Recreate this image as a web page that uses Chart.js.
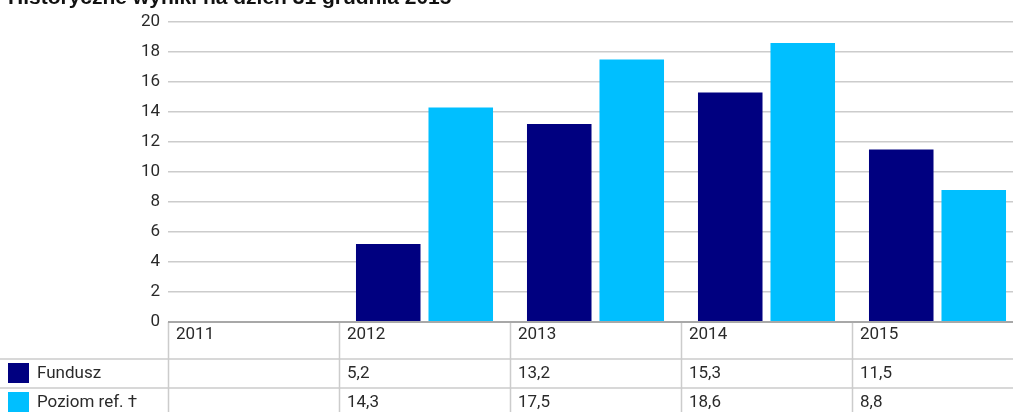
<!DOCTYPE html>
<html>
<head>
<meta charset="utf-8">
<script src="https://cdn.jsdelivr.net/npm/chart.js@4/dist/chart.umd.min.js"></script>
<style>
  html, body { margin: 0; padding: 0; background: #fff; }
  #wrap { width: 1013px; height: 412px; overflow: hidden; position: relative; }
  canvas { display: block; }
</style>
</head>
<body>
<div id="wrap"><canvas id="c" width="1023" height="412"></canvas></div>
<script>
const title = 'Historyczne wyniki na dzień 31 grudnia 2015';
const categories = ['2011', '2012', '2013', '2014', '2015'];
const seriesNames = ['Fundusz', 'Poziom ref. †'];
const fundusz = [null, 5.2, 13.2, 15.3, 11.5];
const poziomRef = [null, 14.3, 17.5, 18.6, 8.8];
const yTicks = [0, 2, 4, 6, 8, 10, 12, 14, 16, 18, 20];
const colors = ['#000080', '#00BFFF'];

const FONT = 'Roboto, "Liberation Sans", sans-serif';
const TEXT = '#2a2a2a';
const LINE = '#cccccc';

function fmt(v) { return v == null ? '' : v.toFixed(1).replace('.', ','); }

const tablePlugin = {
  id: 'tablePlugin',
  afterDraw(chart) {
    const ctx = chart.ctx;
    const xs = chart.scales.x;
    const area = chart.chartArea;
    const W = chart.width;
    const n = categories.length;
    const catW = (area.right - area.left) / n;
    const top = area.bottom;
    const row1 = top + 37;
    const row2 = row1 + 29;
    const rowH = 29;
    ctx.save();
    // title
    ctx.fillStyle = '#111';
    ctx.font = 'bold 21px "Liberation Sans", Arial, sans-serif';
    ctx.textAlign = 'left';
    ctx.textBaseline = 'alphabetic';
    ctx.fillText(title, 8, 4);

    // horizontal lines
    ctx.strokeStyle = LINE;
    ctx.lineWidth = 1.5;
    ctx.beginPath();
    ctx.moveTo(0, row1); ctx.lineTo(W, row1);
    ctx.moveTo(0, row2); ctx.lineTo(W, row2);
    ctx.stroke();
    // vertical lines
    ctx.beginPath();
    for (let i = 0; i < n; i++) {
      const left = xs.getPixelForValue(i) - catW / 2;
      ctx.moveTo(Math.round(left) + 0.5, top);
      ctx.lineTo(Math.round(left) + 0.5, chart.height);
    }
    ctx.stroke();
    // axis line
    ctx.strokeStyle = '#a8a8a8';
    ctx.lineWidth = 2;
    ctx.beginPath();
    ctx.moveTo(area.left, top); ctx.lineTo(W, top);
    ctx.stroke();

    ctx.font = '17px ' + FONT;
    ctx.fillStyle = TEXT;
    ctx.textBaseline = 'middle';
    ctx.textAlign = 'left';
    const rowsData = [fundusz, poziomRef];
    for (let i = 0; i < n; i++) {
      const left = xs.getPixelForValue(i) - catW / 2;
      ctx.fillText(categories[i], left + 8, top + 13);
      for (let r = 0; r < rowsData.length; r++) {
        const yc = row1 + rowH * r + rowH / 2;
        ctx.fillText(fmt(rowsData[r][i]), left + 8, yc);
      }
    }
    // legend
    for (let r = 0; r < seriesNames.length; r++) {
      const y0 = row1 + rowH * r;
      ctx.fillStyle = colors[r];
      ctx.fillRect(8, y0 + 4, 21, 20);
      ctx.fillStyle = TEXT;
      ctx.fillText(seriesNames[r], 37, y0 + rowH / 2);
    }
    ctx.restore();
  }
};

new Chart(document.getElementById('c'), {
  type: 'bar',
  data: {
    labels: categories,
    datasets: [
      { label: seriesNames[0], data: fundusz, backgroundColor: colors[0] },
      { label: seriesNames[1], data: poziomRef, backgroundColor: colors[1] }
    ]
  },
  options: {
    responsive: false,
    animation: false,
    devicePixelRatio: 1,
    categoryPercentage: 0.848,
    barPercentage: 0.89,
    layout: { padding: { top: 22, bottom: 90, left: 0, right: 0 } },
    plugins: { legend: { display: false }, tooltip: { enabled: false }, title: { display: false } },
    scales: {
      x: { display: false, offset: true },
      y: {
        min: 0, max: 20,
        afterFit(scale) { scale.width = 168; },
        afterBuildTicks(scale) { scale.ticks = yTicks.map(v => ({ value: v })); },
        grid: { color: LINE, lineWidth: 1.5, drawTicks: false },
        border: { display: false },
        ticks: { padding: 8, color: TEXT, font: { family: FONT, size: 17 } }
      }
    }
  },
  plugins: [tablePlugin]
});
</script>
</body>
</html>
